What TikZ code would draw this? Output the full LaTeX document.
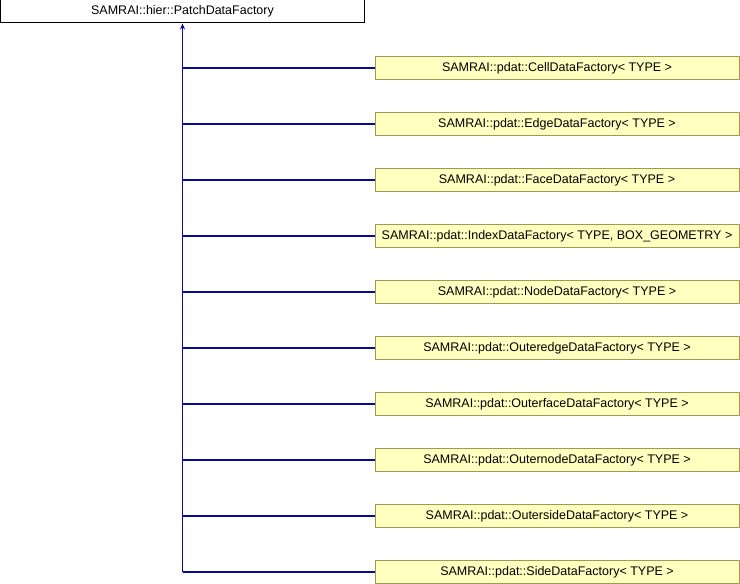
\documentclass[tikz,border=0pt]{standalone}
\usepackage{fontspec}
\setmainfont{Liberation Sans}
\usetikzlibrary{arrows.meta}
\definecolor{edgeblue}{HTML}{0A0A9A}
\definecolor{boxfill}{HTML}{FFFFC0}
\definecolor{boxborder}{HTML}{9C9C50}
\tikzset{
  x=1pt, y=1pt,
  basebox/.style={draw=black, fill=white, line width=1pt, minimum width=364pt, minimum height=23pt, inner sep=0pt, font=\fontsize{12.5}{14}\selectfont},
  childbox/.style={draw=boxborder, fill=boxfill, line width=1pt, minimum width=364pt, minimum height=23pt, inner sep=0pt, font=\fontsize{12.5}{14}\selectfont},
  inherit/.style={draw=edgeblue, line width=1.2pt},
}
\begin{document}
\begin{tikzpicture}
\useasboundingbox (0,0) rectangle (740,584);
\node[basebox] (base) at (182.5,572.5) {SAMRAI::hier::PatchDataFactory};
\foreach \i/\t in {0/{SAMRAI::pdat::CellDataFactory< TYPE >},
                   1/{SAMRAI::pdat::EdgeDataFactory< TYPE >},
                   2/{SAMRAI::pdat::FaceDataFactory< TYPE >},
                   3/{SAMRAI::pdat::IndexDataFactory< TYPE, BOX\_GEOMETRY >},
                   4/{SAMRAI::pdat::NodeDataFactory< TYPE >},
                   5/{SAMRAI::pdat::OuteredgeDataFactory< TYPE >},
                   6/{SAMRAI::pdat::OuterfaceDataFactory< TYPE >},
                   7/{SAMRAI::pdat::OuternodeDataFactory< TYPE >},
                   8/{SAMRAI::pdat::OutersideDataFactory< TYPE >},
                   9/{SAMRAI::pdat::SideDataFactory< TYPE >}} {
  \node[childbox] (c\i) at (557, 516-56*\i) {\t};
  \coordinate (j\i) at (182.5, 516-56*\i);
  \draw[inherit] (c\i.west) -- (j\i);
}
\draw[inherit, -{Stealth[length=6pt,width=5pt]}] (j9) -- (base.south);
\end{tikzpicture}
\end{document}
